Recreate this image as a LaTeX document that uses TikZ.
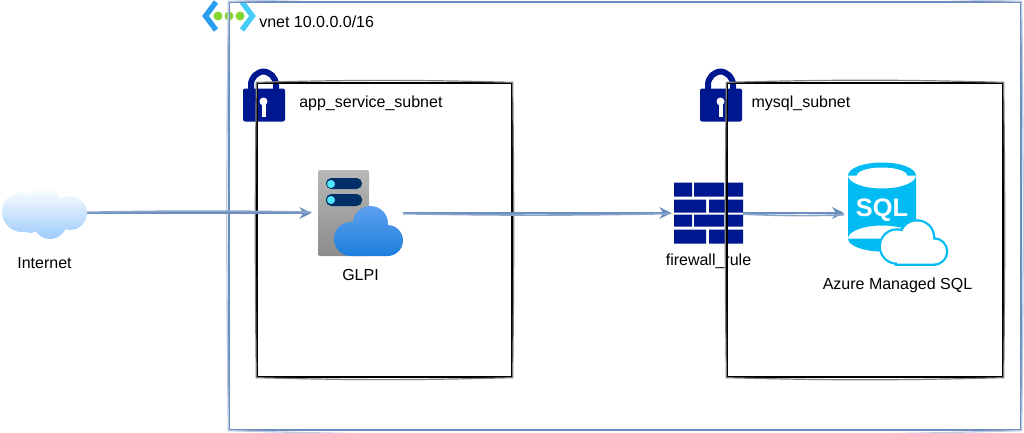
\documentclass[tikz,border=0pt]{standalone}
\usepackage{fontspec}
\setmainfont{Liberation Sans}
\usetikzlibrary{arrows.meta,positioning}
\definecolor{wireblue}{HTML}{6C8EBF}
\definecolor{locknavy}{HTML}{00188F}
\definecolor{sqlcyan}{HTML}{00BCF2}
\definecolor{barnavy}{HTML}{003067}
\definecolor{cloudtop}{HTML}{5EA0EF}
\definecolor{cloudbot}{HTML}{1B7FDC}
\definecolor{skybot}{HTML}{9CCBFB}
\definecolor{dotgreen}{HTML}{86D633}
\definecolor{chevleft}{HTML}{2A9DF0}
\definecolor{chevright}{HTML}{45CDF8}
\definecolor{ledcyan}{HTML}{50E6FF}
\tikzset{
  icon/.style={inner sep=0pt, outer sep=0pt},
  caption/.style={inner sep=0pt, font=\fontsize{12}{14}\selectfont},
  vnetbox/.style={draw=wireblue, line width=1pt, inner sep=0pt, minimum width=594pt, minimum height=321pt},
  subnetbox/.style={draw=black, line width=1pt, inner sep=0pt, minimum height=220.5pt},
  wire/.style={draw=wireblue, line width=1.3pt, -{Stealth[length=9pt, width=9pt]}},
  wiresketch/.style={draw=wireblue!80, line width=1.2pt}
}
% second pass of a box, slightly bowed
\newcommand{\sketchbox}[2]{
  \draw[#2] (#1.north west) to[bend left=1.5] (#1.north east) to[bend left=.7] (#1.south east)
    to[bend left=1.5] (#1.south west) to[bend left=.7] (#1.north west);
}
\newcommand{\lockicon}[1]{
  \begin{scope}[shift={(#1.north west)}]
    \draw[locknavy, line width=4.5pt, rounded corners=10] (8,26) -- (8,3) -- (33,3) -- (33,26);
    \fill[locknavy, rounded corners=1.5] (0,20) rectangle (42,53);
    \fill[white] (20.5,33) circle (4);
    \fill[white] (18.5,33) rectangle (22.5,48);
  \end{scope}
}
\begin{document}
\begin{tikzpicture}[x=.75pt, y=-.75pt]
  \useasboundingbox (0,0) rectangle (1024,432);

  \node[icon, minimum width=63.75pt, minimum height=39pt] (internet) at (44.5,213) {};
  \node[icon, minimum width=63.75pt, minimum height=64.5pt, right=173.25pt of internet] (glpi) {};
  \node[icon, minimum width=51.75pt, minimum height=45.75pt, right=203.25pt of glpi] (firewall) {};
  \node[icon, minimum width=74.25pt, minimum height=75.75pt, right=78.75pt of firewall] (sql) {};
  \node[icon, minimum width=31.5pt, minimum height=39.75pt] (applock) at (264,95) {};
  \node[icon, minimum width=31.5pt, minimum height=39.75pt] (mysqllock) at (721,95) {};
  \node[icon, minimum width=39pt, minimum height=24pt] (vneticon) at (229,16) {};

  % internet cloud
  \begin{scope}[shift={(internet.north west)}]
    \shade[top color=white, bottom color=skybot]
      (20,25) circle (20) (43,16) circle (16) (68,26) circle (17) (48,35) circle (17) (28,35) circle (11);
  \end{scope}

  % server with cloud
  \begin{scope}[shift={(glpi.north west)}]
    \shade[top color=black!28, bottom color=black!45, rounded corners=1.5] (0,0) rectangle (51,86);
    \fill[barnavy, rounded corners=4] (8,8) rectangle (44,19) (8,24) rectangle (44,36);
    \fill[ledcyan] (13,14) circle (4) (13,30) circle (4);
    \shade[top color=cloudtop, bottom color=cloudbot]
      (52.5,53.5) circle (17.5) (69.5,70.5) circle (15.5) (33,69) circle (17) (33,86) rectangle (70,60);
  \end{scope}

  % brick wall
  \begin{scope}[shift={(firewall.north west)}]
    \foreach \top/\bot in {0/14,32/44}
      \fill[locknavy] (0,\top) rectangle (18,\bot) (20,\top) rectangle (50,\bot) (52,\top) rectangle (69,\bot);
    \foreach \top/\bot in {17/30,47/61}
      \fill[locknavy] (0,\top) rectangle (32,\bot) (35,\top) rectangle (69,\bot);
  \end{scope}

  % database with cloud
  \begin{scope}[shift={(sql.north west)}]
    \fill[sqlcyan] (34,13) ellipse [x radius=34, y radius=13] (0,13) rectangle (68,76)
      (34,76) ellipse [x radius=34, y radius=13];
    \fill[white] (34,13) ellipse [x radius=25, y radius=8];
    \node[text=white, inner sep=0pt, font=\fontsize{19}{22}\bfseries\selectfont] (sqlword) at (34,48) {SQL};
    \def\cloudpath{(49,84) circle (16) (69,75) circle (16) (86,89) circle (12) (49,101) rectangle (86,84)}
    \draw[sqlcyan, line width=3.4pt] \cloudpath;
    \fill[white] \cloudpath;
  \end{scope}

  % vnet icon
  \draw[chevleft, line width=4pt] (216,2) -- (205.5,16) -- (216,30);
  \draw[chevright, line width=4pt] (242,2) -- (252.5,16) -- (242,30);
  \fill[dotgreen] (218,16) circle (4.5) (229,16) circle (4.5) (240,16) circle (4.5);

  \lockicon{applock}
  \lockicon{mysqllock}

  \node[caption, below=14pt of internet] (internetlabel) {Internet};
  \node[caption, below=10pt of glpi] (glpilabel) {GLPI};
  \node[caption, below=7.5pt of firewall] (firewalllabel) {firewall\_rule};
  \node[caption, below=10.5pt of sql] (sqllabel) {Azure Managed SQL};
  \node[caption, right=10.5pt of applock, yshift=-6.5pt] (applabel) {app\_service\_subnet};
  \node[caption, right=7pt of mysqllock, yshift=-6.5pt] (mysqllabel) {mysql\_subnet};
  \node[caption, right=3pt of vneticon, yshift=-4pt] (vnetlabel) {vnet 10.0.0.0/16};

  \node[vnetbox] (vnet) at (625,216) {};
  \node[subnetbox, minimum width=191.25pt] (appsubnet) at (384.5,230) {};
  \node[subnetbox, minimum width=207pt] (mysqlsubnet) at (865,230) {};
  \sketchbox{vnet}{wireblue!45, line width=1pt}
  \sketchbox{appsubnet}{black!50, line width=.9pt}
  \sketchbox{mysqlsubnet}{black!50, line width=.9pt}

  \draw[wire, shorten >=5pt] (internet) -- (glpi);
  \draw[wire, shorten >=2pt] (glpi) -- (firewall);
  \draw[wire, shorten >=3pt] (firewall) -- (sql);
  \draw[wiresketch, shorten >=5pt] (internet) to[bend left=1] (glpi);
  \draw[wiresketch, shorten >=2pt] (glpi) to[bend right=1] (firewall);
  \draw[wiresketch, shorten >=3pt] (firewall) to[bend right=2] (sql);
\end{tikzpicture}
\end{document}
